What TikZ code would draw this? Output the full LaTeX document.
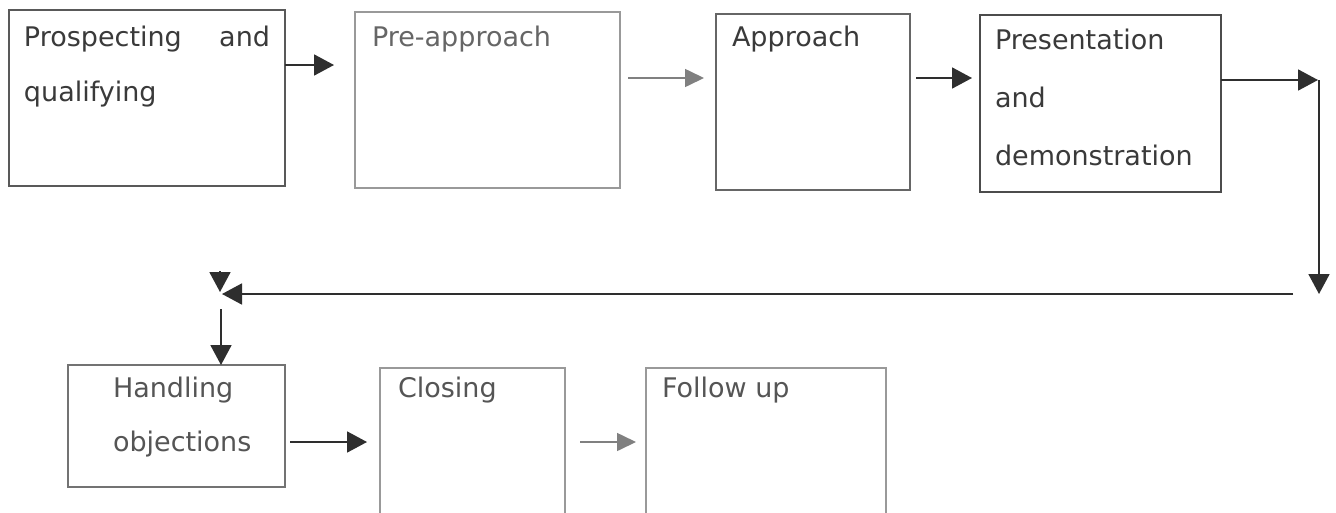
\documentclass[tikz,border=0pt]{standalone}
\usepackage{fontspec}
\setmainfont{DejaVu Sans}
\usetikzlibrary{arrows.meta}
\definecolor{txtdark}{HTML}{3A3A3A}
\definecolor{txtmid}{HTML}{555555}
\definecolor{txtlight}{HTML}{666666}
\definecolor{linedark}{HTML}{2E2E2E}
\definecolor{linegray}{HTML}{808080}
\newcommand{\bxt}[6]{\parbox[c][#2pt][t]{#1pt}{\fontsize{27}{#5}\selectfont\raggedright\leftskip=#3pt\rightskip=15pt plus 1fil\hyphenpenalty=10000\rule{0pt}{#4pt}#6}}
\tikzset{
  stagebox/.style={draw=#1, line width=1.3pt, anchor=north west, inner sep=0pt, outer sep=0pt},
  arr/.style={draw=linedark, line width=1.8pt, -{Triangle[length=20pt,width=21pt]}},
  arrg/.style={draw=linegray, line width=1.6pt, -{Triangle[length=19pt,width=18pt]}},
  seg/.style={draw=linedark, line width=1.8pt}
}
\begin{document}
\begin{tikzpicture}[x=1pt,y=-1pt]
\useasboundingbox (0,0) rectangle (1336,512);
\fill[white] (0,0) rectangle (1336,512);
\clip (0,0) rectangle (1336,512);
% top row
\node[stagebox=black!65, text=txtdark] (p) at (9,10) {\bxt{276}{176}{15}{36}{55}{Prospecting\hfill and\\qualifying}};
\node[stagebox=black!40, text=txtlight] (pa) at (355,12) {\bxt{265}{176}{17}{34}{55}{Pre-approach}};
\node[stagebox=black!60, text=txtdark] (ap) at (716,14) {\bxt{194}{176}{16}{32}{55}{Approach}};
\node[stagebox=black!70, text=txtdark] (pr) at (980,15) {\bxt{241}{177}{15}{34}{58}{Presentation\\and\\demonstration}};
% bottom row
\node[stagebox=black!55, text=txtmid] (ho) at (68,365) {\bxt{217}{122}{45}{32}{54}{Handling\\objections}};
\node[stagebox=black!40, text=txtmid] (cl) at (380,368) {\bxt{185}{160}{18}{29}{54}{Closing}};
\node[stagebox=black!40, text=txtmid] (fu) at (646,368) {\bxt{240}{160}{16}{29}{54}{Follow up}};
% connector coordinates
\coordinate (t1) at (334,65);
\coordinate (s2) at (628,78);
\coordinate (t2) at (704,78);
\coordinate (s3) at (916,78);
\coordinate (t3) at (972,78);
\coordinate (t4) at (1318,80);
\coordinate (c4) at (1319,80);
\coordinate (d4) at (1319,294);
\coordinate (h1) at (1293,294);
\coordinate (h2) at (222,294);
\coordinate (m1) at (220,271);
\coordinate (m2) at (220,292);
\coordinate (v1) at (221,309);
\coordinate (s5) at (290,442);
\coordinate (t5) at (367,442);
\coordinate (s6) at (580,442);
\coordinate (t6) at (636,442);
% connectors
\draw[arr] (p.east |- t1) -- (t1);
\draw[arrg] (s2) -- (t2);
\draw[arr] (s3) -- (t3);
\draw[arr] (pr.east |- t4) -- (t4);
\draw[arr] (c4) -- (d4);
\draw[arr] (h1) -- (h2);
\draw[arr] (m1) -- (m2);
\draw[arr] (v1) -- (ho.north -| v1);
\draw[arr] (s5) -- (t5);
\draw[arrg] (s6) -- (t6);
\end{tikzpicture}
\end{document}
